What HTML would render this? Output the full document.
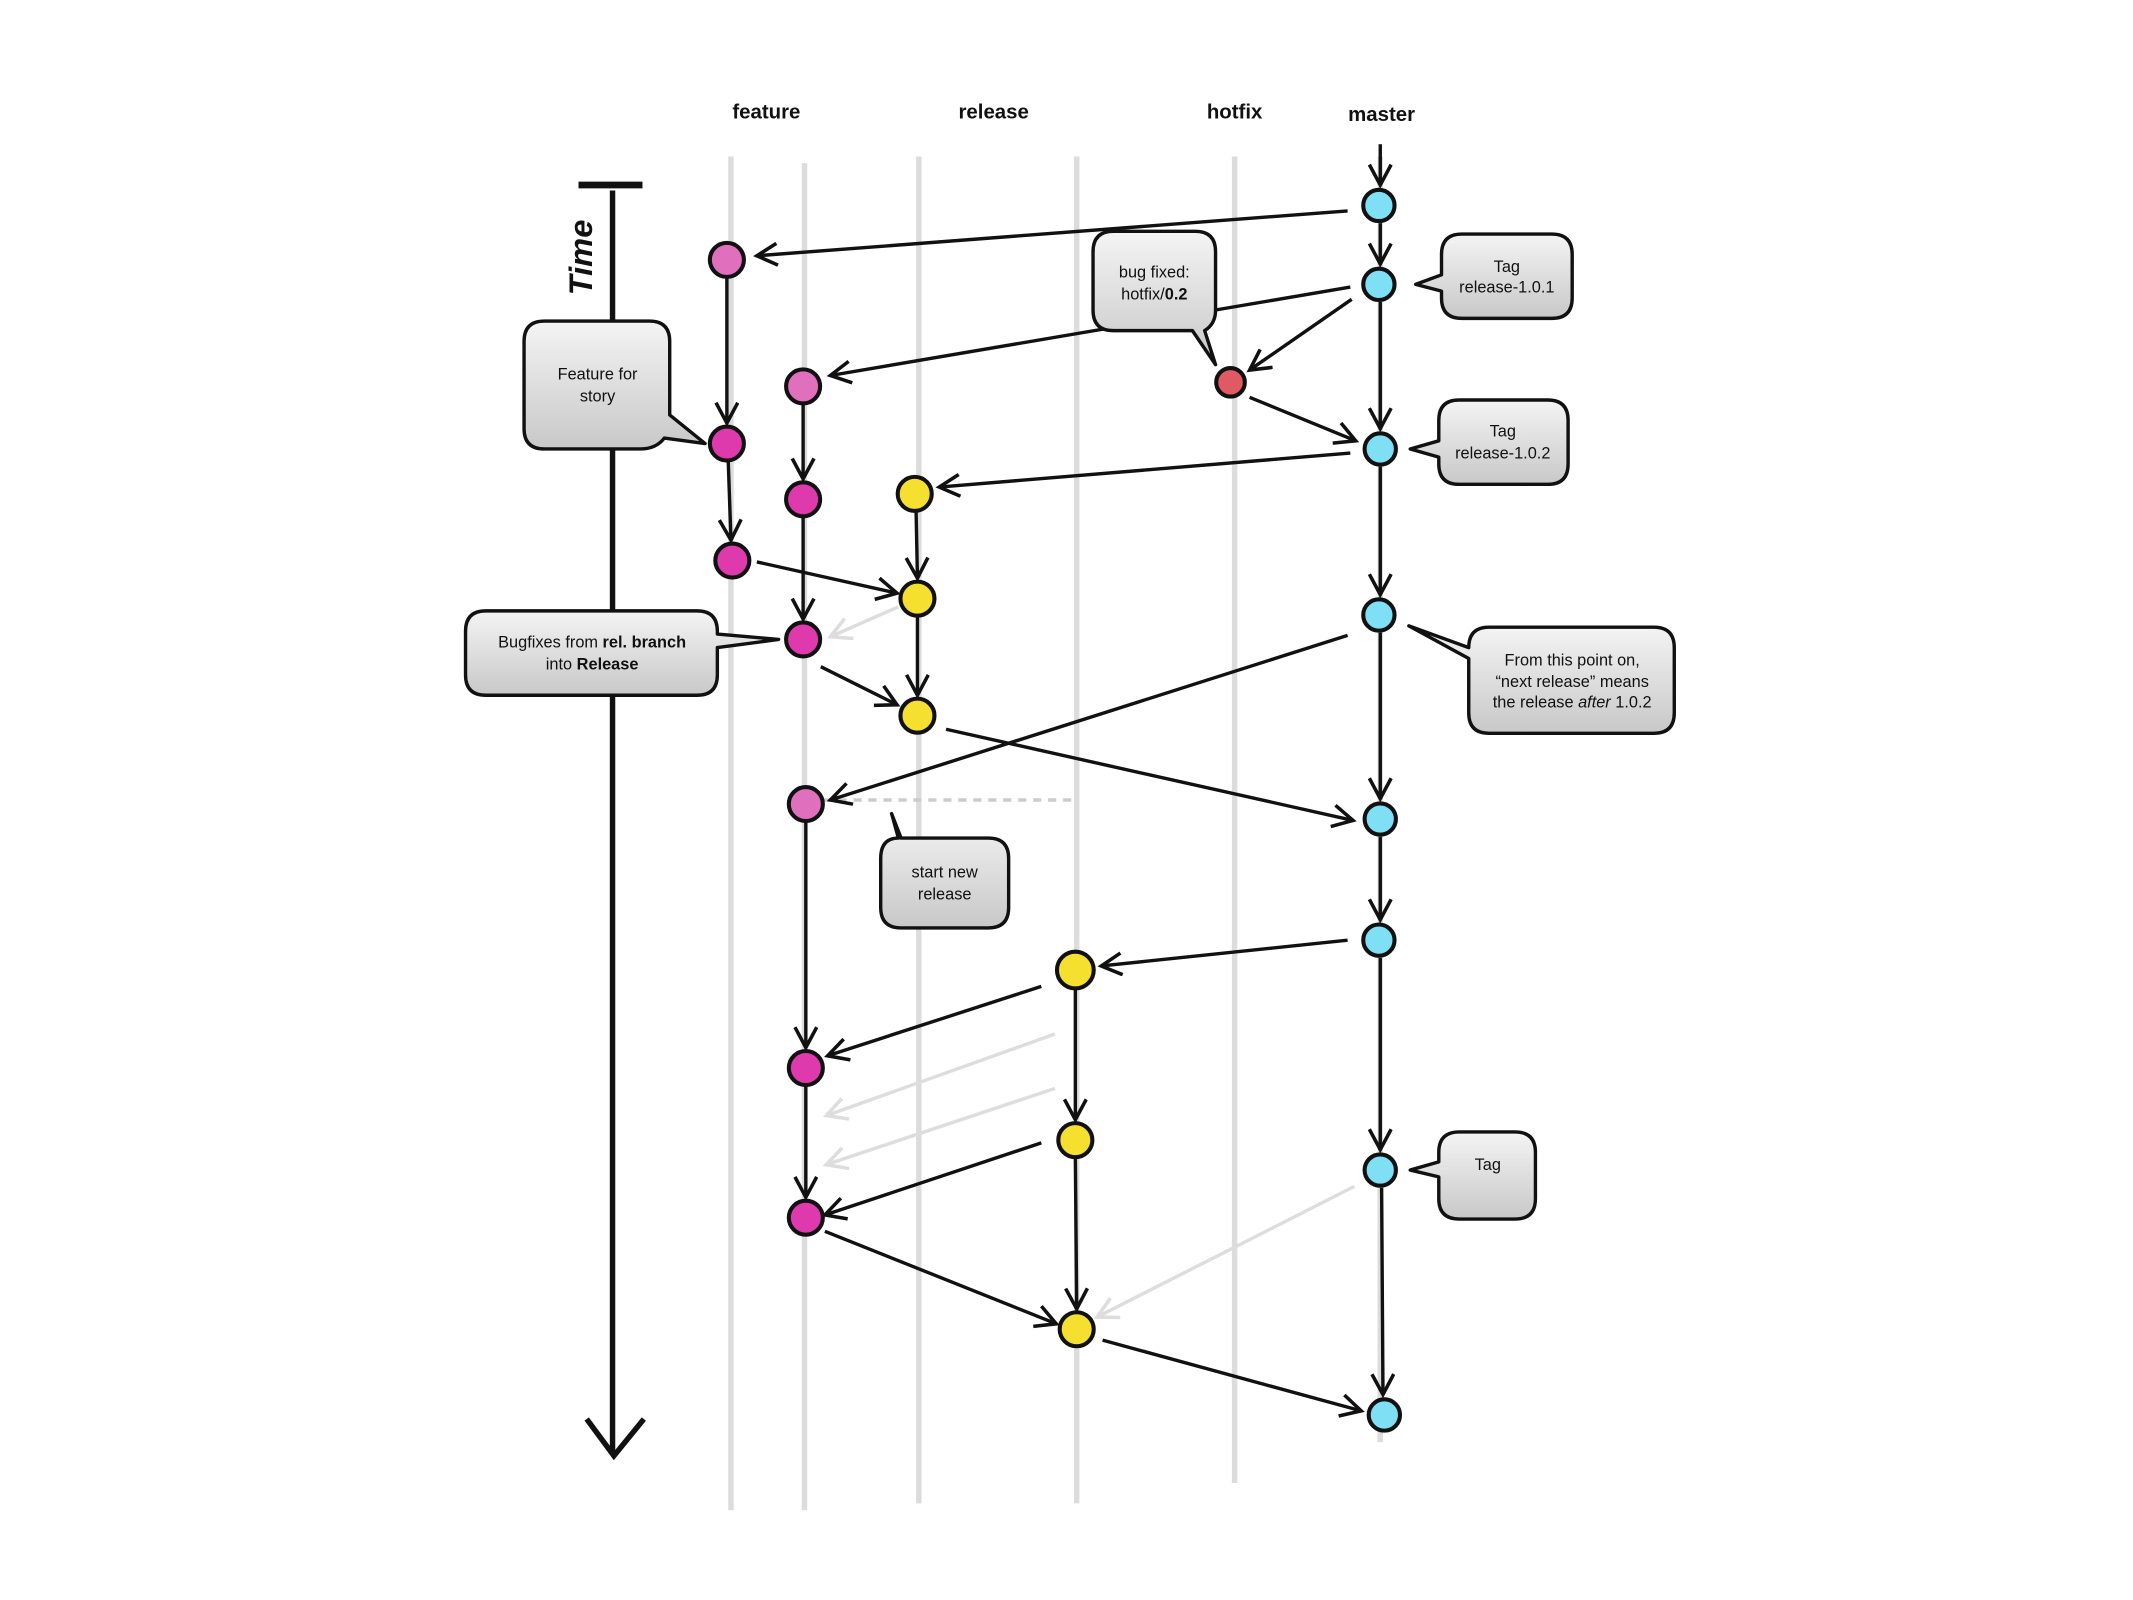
<!DOCTYPE html>
<html><head><meta charset="utf-8"><style>
html,body{margin:0;padding:0;background:#fff;}
svg{display:block;}
text{font-family:"Liberation Sans",sans-serif;}
</style></head><body>
<svg width="2133" height="1600" viewBox="0 0 1567 1176" preserveAspectRatio="none" xmlns="http://www.w3.org/2000/svg">
<defs>
<marker id="a" markerUnits="userSpaceOnUse" markerWidth="20" markerHeight="20" refX="17" refY="9" orient="auto">
<path d="M2,1 L17,9 L2,17" fill="none" stroke="#111" stroke-width="2.6"/>
</marker>
<marker id="g" markerUnits="userSpaceOnUse" markerWidth="20" markerHeight="20" refX="17" refY="9" orient="auto">
<path d="M2,1 L17,9 L2,17" fill="none" stroke="#ddd" stroke-width="2.6"/>
</marker>
<linearGradient id="bx" x1="0" y1="0" x2="0" y2="1"><stop offset="0" stop-color="#f4f4f4"/><stop offset="1" stop-color="#c8c8c8"/></linearGradient>
</defs>

<g stroke="#dcdcdc" stroke-width="4">
<line x1="537" y1="115" x2="537" y2="1110"/>
<line x1="591" y1="120" x2="591" y2="1110"/>
<line x1="675" y1="115" x2="675" y2="1105"/>
<line x1="791" y1="115" x2="791" y2="1105"/>
<line x1="907" y1="115" x2="907" y2="1090"/>
<line x1="1014" y1="115" x2="1014" y2="1060"/>
</g>

<g font-weight="bold" font-size="15" text-anchor="middle" fill="#111">
<text x="563" y="87">feature</text>
<text x="730" y="87">release</text>
<text x="907" y="87">hotfix</text>
<text x="1015" y="89">master</text>
</g>

<line x1="425" y1="136" x2="472" y2="136" stroke="#111" stroke-width="5"/>
<line x1="450" y1="140" x2="450" y2="1068" stroke="#111" stroke-width="4"/>
<path d="M431,1043 L451,1070 L473,1043" fill="none" stroke="#111" stroke-width="4"/>
<text transform="translate(435,217) rotate(-90)" font-size="24" font-weight="bold" font-style="italic" fill="#111">Time</text>

<g stroke="#ddd" stroke-width="2.5" fill="none" marker-end="url(#g)">
<line x1="660" y1="446" x2="610" y2="468"/>
<line x1="775" y1="760" x2="607" y2="820"/>
<line x1="775" y1="800" x2="607" y2="856"/>
<line x1="995" y1="872" x2="806" y2="968"/>
</g>
<line x1="605" y1="588" x2="792" y2="588" stroke="#ccc" stroke-width="2.5" stroke-dasharray="6,5"/>

<g stroke="#111" stroke-width="2.5" fill="none" marker-end="url(#a)">
<line x1="1014" y1="106" x2="1014" y2="136"/>
<line x1="1014" y1="164" x2="1014" y2="194"/>
<line x1="1014" y1="222" x2="1014" y2="315"/>
<line x1="1014" y1="343" x2="1014" y2="437"/>
<line x1="1014" y1="465" x2="1014" y2="587"/>
<line x1="1014" y1="615" x2="1014" y2="676"/>
<line x1="1014" y1="704" x2="1014" y2="845"/>
<line x1="1015" y1="873" x2="1016" y2="1025"/>
<line x1="990" y1="155" x2="556" y2="188"/>
<line x1="992" y1="211" x2="610" y2="276"/>
<line x1="993" y1="220" x2="918" y2="272"/>
<line x1="918" y1="292" x2="996" y2="324"/>
<line x1="992" y1="333" x2="690" y2="358"/>
<line x1="534" y1="204" x2="534" y2="311"/>
<line x1="590" y1="297" x2="590" y2="352"/>
<line x1="535" y1="339" x2="537" y2="397"/>
<line x1="590" y1="380" x2="590" y2="455"/>
<line x1="556" y1="413" x2="659" y2="436"/>
<line x1="673" y1="376" x2="674" y2="425"/>
<line x1="674" y1="453" x2="674" y2="511"/>
<line x1="603" y1="490" x2="659" y2="518"/>
<line x1="695" y1="536" x2="994" y2="603"/>
<line x1="990" y1="467" x2="610" y2="588"/>
<line x1="592" y1="604" x2="592" y2="770"/>
<line x1="990" y1="691" x2="809" y2="710"/>
<line x1="765" y1="725" x2="608" y2="776"/>
<line x1="790" y1="726" x2="790" y2="823"/>
<line x1="765" y1="840" x2="606" y2="893"/>
<line x1="592" y1="798" x2="592" y2="880"/>
<line x1="606" y1="905" x2="776" y2="973"/>
<line x1="790" y1="851" x2="791" y2="962"/>
<line x1="810" y1="985" x2="1000" y2="1037"/>
</g>

<g stroke="#111" stroke-width="3">
<g fill="#7fe0f5">
<circle cx="1013" cy="151" r="11.5"/><circle cx="1013" cy="209" r="11.5"/><circle cx="1014" cy="330" r="11.5"/><circle cx="1013" cy="452" r="11.5"/><circle cx="1014" cy="602" r="11.5"/><circle cx="1013" cy="691" r="11.5"/><circle cx="1014" cy="860" r="11.5"/><circle cx="1017" cy="1040" r="11.5"/>
</g>
<circle cx="904" cy="281" r="10.5" fill="#e05a66"/>
<g fill="#e070bd">
<circle cx="534" cy="191" r="12.5"/><circle cx="590" cy="284" r="12.5"/><circle cx="592" cy="591" r="12.5"/>
</g>
<g fill="#de3aae">
<circle cx="534" cy="326" r="12.5"/><circle cx="590" cy="367" r="12.5"/><circle cx="538" cy="412" r="12.5"/><circle cx="590" cy="470" r="12.5"/><circle cx="592" cy="785" r="12.5"/><circle cx="592" cy="895" r="12.5"/>
</g>
<g fill="#f5e030">
<circle cx="672" cy="363" r="12.5"/><circle cx="674" cy="440" r="12.5"/><circle cx="674" cy="526" r="12.5"/><circle cx="790" cy="713" r="13.5"/><circle cx="790" cy="838" r="12.5"/><circle cx="791" cy="977" r="12.5"/>
</g>
</g>

<g fill="url(#bx)" stroke="#111" stroke-width="2.5" stroke-linejoin="round">
<path d="M400,236 H477 Q492,236 492,251 V305 L518,326 L488,322 Q482,330 470,330 H400 Q385,330 385,315 V251 Q385,236 400,236 Z"/>
<path d="M357,449 H512 Q527,449 527,464 V466 L572,470 L527,476 V496 Q527,511 512,511 H357 Q342,511 342,496 V464 Q342,449 357,449 Z"/>
<path d="M818,170 H878 Q893,170 893,185 V228 Q893,238 885,243 L893,268 L876,243 H818 Q803,243 803,228 V185 Q803,170 818,170 Z"/>
<path d="M1074,172 H1140 Q1155,172 1155,187 V219 Q1155,234 1140,234 H1074 Q1059,234 1059,219 V214 L1040,209 L1059,202 V187 Q1059,172 1074,172 Z"/>
<path d="M1072,294 H1137 Q1152,294 1152,309 V341 Q1152,356 1137,356 H1072 Q1057,356 1057,341 V336 L1036,330 L1057,324 V309 Q1057,294 1072,294 Z"/>
<path d="M1094,461 H1215 Q1230,461 1230,476 V524 Q1230,539 1215,539 H1094 Q1079,539 1079,524 V484 L1035,460 L1079,476 Q1079,461 1094,461 Z"/>
<path d="M662,616 H726 Q741,616 741,631 V667 Q741,682 726,682 H662 Q647,682 647,667 V631 Q647,616 660,616 L655,598 Z"/>
<path d="M1072,832 H1113 Q1128,832 1128,847 V881 Q1128,896 1113,896 H1072 Q1057,896 1057,881 V865 L1036,860 L1057,854 V847 Q1057,832 1072,832 Z"/>
</g>
<g font-size="12" fill="#111" text-anchor="middle">
<text x="439" y="279">Feature for</text><text x="439" y="295">story</text>
<text x="435" y="476">Bugfixes from <tspan font-weight="bold">rel. branch</tspan></text>
<text x="435" y="492">into <tspan font-weight="bold">Release</tspan></text>
<text x="848" y="204">bug fixed:</text><text x="848" y="220">hotfix/<tspan font-weight="bold">0.2</tspan></text>
<text x="1107" y="200">Tag</text><text x="1107" y="215">release-1.0.1</text>
<text x="1104" y="321">Tag</text><text x="1104" y="337">release-1.0.2</text>
<text x="1155" y="489">From this point on,</text>
<text x="1155" y="505">“next release” means</text>
<text x="1155" y="520">the release <tspan font-style="italic">after</tspan> 1.0.2</text>
<text x="694" y="645">start new</text><text x="694" y="661">release</text>
<text x="1093" y="860">Tag</text>
</g>
</svg>
</body></html>
